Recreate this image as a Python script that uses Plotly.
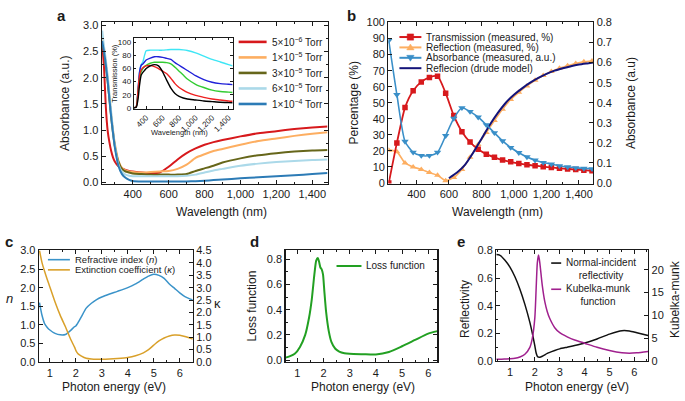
import plotly.graph_objects as go

# ---------------- data ----------------
# (a) absorbance vs wavelength, five oxygen pressures
WL_A = [230, 240, 250, 260, 270, 280, 290, 300, 320, 340, 360, 380, 400, 450, 500, 550,
        600, 650, 700, 750, 800, 850, 900, 1000, 1100, 1200, 1300, 1400, 1485]
ABS_5E6 = [2.65, 2.2, 1.45, 1.0, 0.77, 0.6, 0.48, 0.4, 0.31, 0.27, 0.24, 0.22, 0.21, 0.19, 0.18, 0.19,
           0.3, 0.44, 0.56, 0.65, 0.72, 0.77, 0.81, 0.88, 0.94, 0.98, 1.02, 1.05, 1.07]
ABS_1E5 = [2.75, 2.55, 2.3, 2.0, 1.65, 1.3, 1.0, 0.75, 0.42, 0.28, 0.23, 0.21, 0.2, 0.19, 0.2, 0.21,
           0.22, 0.26, 0.34, 0.47, 0.54, 0.6, 0.64, 0.72, 0.79, 0.84, 0.89, 0.93, 0.96]
ABS_3E5 = [2.7, 2.5, 2.25, 1.95, 1.6, 1.25, 0.95, 0.7, 0.4, 0.26, 0.21, 0.19, 0.17, 0.16, 0.15, 0.15,
           0.15, 0.15, 0.16, 0.22, 0.27, 0.32, 0.38, 0.46, 0.52, 0.56, 0.59, 0.61, 0.62]
ABS_6E5 = [2.9, 2.6, 2.35, 2.05, 1.7, 1.35, 1.0, 0.72, 0.35, 0.2, 0.15, 0.13, 0.12, 0.12, 0.12, 0.12,
           0.12, 0.12, 0.13, 0.15, 0.19, 0.23, 0.26, 0.32, 0.36, 0.39, 0.41, 0.43, 0.44]
ABS_1E4 = [2.7, 2.5, 2.25, 1.95, 1.6, 1.25, 0.95, 0.68, 0.32, 0.16, 0.09, 0.05, 0.03, 0.02, 0.02, 0.02,
           0.02, 0.02, 0.02, 0.025, 0.035, 0.045, 0.055, 0.08, 0.1, 0.12, 0.14, 0.16, 0.18]
LEGEND_A = ["5×10<sup>−6</sup> Torr", "1×10<sup>−5</sup> Torr", "3×10<sup>−5</sup> Torr",
            "6×10<sup>−5</sup> Torr", "1×10<sup>−4</sup> Torr"]

# (a, inset) transmission vs wavelength
WL_IN = [250, 280, 300, 320, 340, 360, 380, 400, 450, 500, 550, 600, 650, 700, 750, 800,
         850, 900, 1000, 1100, 1200, 1300, 1400, 1450]
T_CYAN = [0, 2, 25, 55, 66, 70, 80, 87, 88, 88, 88, 88, 88.5, 89, 89, 89, 88.5, 87.5, 84, 79, 74, 70, 66, 64]
T_BLUE = [0, 2, 25, 55, 65, 67, 70, 73, 76, 78, 78, 77, 75.5, 74, 69, 65, 61, 57, 49, 43, 39, 37, 36, 35.5]
T_GREEN = [0, 2, 22, 45, 55, 60, 63, 65, 68, 69.5, 69.5, 69.5, 69, 67, 62, 56, 50, 44, 36, 31, 27, 25, 24, 23.5]
T_RED = [0, 2, 25, 50, 58, 61, 63, 64, 64.5, 63, 60, 56, 52, 45, 37, 31, 27, 23.5, 19, 16, 13.5, 12, 10.5, 10]
T_BLACK = [0, 1, 12, 35, 50, 54, 57, 60, 64, 66, 64, 55, 42, 30, 22, 17.5, 15, 13.5, 12, 10.5, 9.5, 8.5, 8, 7.8]

# (b) measured spectra + Drude model
WL_B = [230, 280, 330, 380, 430, 480, 530, 580, 630, 680, 730, 780, 830, 880, 930, 980,
        1030, 1080, 1130, 1180, 1230, 1280, 1330, 1380, 1430, 1480]
TRANS_B = [0, 25, 47, 57.5, 63, 65.8, 66.5, 56, 42, 32, 25.5, 21, 18, 16, 14.3, 13.2,
           12.2, 11.4, 10.8, 10.2, 9.7, 9.2, 8.8, 8.4, 8.0, 7.6]
REFL_B = [20.5, 19.5, 12.5, 10, 8.5, 6.5, 4.8, 1.5, 3.5, 8.5, 16, 24, 31.5, 39, 46, 52,
          56.5, 60.5, 64, 67, 69.5, 71.5, 73, 74.5, 75.5, 76]
ABS_B = [0.71, 0.44, 0.207, 0.153, 0.137, 0.137, 0.153, 0.236, 0.322, 0.375, 0.356, 0.328, 0.29, 0.25,
         0.21, 0.177, 0.151, 0.13, 0.114, 0.102, 0.094, 0.086, 0.08, 0.076, 0.073, 0.071]
WL_DRUDE = [600, 650, 700, 750, 800, 850, 900, 950, 1000, 1050, 1100, 1150, 1200, 1250,
            1300, 1350, 1400, 1450, 1487]
DRUDE = [3, 6.5, 11.5, 19, 27.5, 36, 43.5, 50, 55, 59, 62.5, 65.5, 68, 70, 71.5, 72.8, 73.8, 74.5, 75]
LEGEND_B = ["Transmission (measured, %)", "Reflection (measured, %)",
            "Absorbance (measured, a.u.)", "Reflecion (drude model)"]

# (c) optical constants
E_C = [0.6, 0.7, 0.8, 0.9, 1.0, 1.2, 1.4, 1.6, 1.8, 1.95, 2.0, 2.05, 2.1, 2.2, 2.4, 2.6, 2.8, 3.0,
       3.3, 3.6, 4.0, 4.3, 4.6, 4.8, 5.0, 5.2, 5.4, 5.6, 5.8, 6.0, 6.2, 6.5]
N_C = [1.6, 1.25, 1.03, 0.93, 0.86, 0.77, 0.73, 0.74, 0.85, 0.95, 0.97, 1.02, 1.08, 1.2, 1.45, 1.58,
       1.68, 1.75, 1.83, 1.9, 2.0, 2.1, 2.23, 2.31, 2.36, 2.33, 2.25, 2.1, 1.98, 1.86, 1.76, 1.67]
K_C = [4.5, 4.0, 3.65, 3.33, 3.03, 2.42, 1.88, 1.42, 0.92, 0.6, 0.47, 0.38, 0.32, 0.25, 0.15, 0.12,
       0.11, 0.11, 0.12, 0.14, 0.18, 0.25, 0.37, 0.5, 0.68, 0.85, 0.97, 1.05, 1.09, 1.08, 1.03, 0.93]
LEGEND_C = ["Refractive index (<i>n</i>)", "Extinction coefficient (<i>κ</i>)"]

# (d) loss function
E_D = [0.55, 0.7, 0.9, 1.1, 1.3, 1.45, 1.55, 1.65, 1.72, 1.78, 1.83, 1.88, 1.93, 1.98, 2.03, 2.1,
       2.2, 2.3, 2.45, 2.6, 2.8, 3.0, 3.5, 4.0, 4.5, 5.0, 5.5, 6.0, 6.35]
LOSS_D = [0.02, 0.03, 0.05, 0.105, 0.2, 0.34, 0.48, 0.68, 0.79, 0.81, 0.78, 0.735, 0.72, 0.68, 0.55,
          0.38, 0.23, 0.145, 0.09, 0.068, 0.055, 0.05, 0.047, 0.045, 0.065, 0.11, 0.16, 0.21, 0.23]

# (e) reflectivity and Kubelka-Munk
E_E = [0.45, 0.6, 0.8, 1.0, 1.2, 1.4, 1.6, 1.8, 1.9, 2.0, 2.05, 2.1, 2.15, 2.2, 2.3, 2.4, 2.5, 2.6,
       2.8, 3.0, 3.3, 3.6, 4.0, 4.5, 5.0, 5.5, 5.8, 6.1, 6.55]
REFL_E = [0.77, 0.765, 0.73, 0.68, 0.61, 0.52, 0.41, 0.28, 0.2, 0.11, 0.06, 0.035, 0.028, 0.027, 0.035,
          0.045, 0.055, 0.063, 0.076, 0.088, 0.1, 0.112, 0.13, 0.16, 0.195, 0.22, 0.218, 0.205, 0.185]
KM_E = [0.4, 0.4, 0.45, 0.5, 0.6, 0.9, 1.5, 3.0, 5.0, 9.5, 15.5, 21.5, 23.2, 21.5, 16.5, 13.0, 10.8,
        9.3, 7.3, 6.2, 5.3, 4.6, 3.9, 3.0, 2.3, 1.8, 1.7, 1.8, 2.1]

TICK_WL = [400, 600, 800, 1000, 1200, 1400]

# ---------------- styling / layout helpers ----------------
W, H = 685, 401
FONT = "Liberation Sans, Arial, Helvetica, sans-serif"
INK = "#1a1a1a"


def fx(p):
    return p / W


def fy(p):
    return 1 - p / H


fig = go.Figure()


def add_line(x, y, color, width, xa, ya, mode="lines", marker=None):
    fig.add_trace(go.Scatter(
        x=x, y=y, mode=mode, xaxis=xa, yaxis=ya, showlegend=False, hoverinfo="skip",
        line=dict(color=color, width=width, shape="spline", smoothing=0.6),
        marker=marker or {}))


# (a)
COL_A = ["#d7191c", "#fdae61", "#66661a", "#abd9e9", "#2c7bb6"]
for ys, c in zip([ABS_5E6, ABS_1E5, ABS_3E5, ABS_6E5, ABS_1E4], COL_A):
    add_line(WL_A, ys, c, 2, "x", "y")

# inset
COL_IN = ["#3ee6f5", "#2020d8", "#33cc33", "#ee2020", "#000000"]
for ys, c in zip([T_CYAN, T_BLUE, T_GREEN, T_RED, T_BLACK], COL_IN):
    add_line(WL_IN, ys, c, 1.4, "x2", "y2")

# (b)
COL_B = ["#d7191c", "#fdae61", "#3a8fc8", "#14147a"]
add_line(WL_B, REFL_B, COL_B[1], 1.6, "x3", "y3", "lines+markers",
         dict(symbol="triangle-up", size=6, color=COL_B[1]))
add_line(WL_B, TRANS_B, COL_B[0], 1.8, "x3", "y3", "lines+markers",
         dict(symbol="square", size=5.5, color=COL_B[0]))
add_line(WL_DRUDE, DRUDE, COL_B[3], 2, "x3", "y3")
add_line(WL_B, ABS_B, COL_B[2], 1.6, "x3", "y4", "lines+markers",
         dict(symbol="triangle-down", size=6.5, color=COL_B[2]))

# (c)
COL_C = ["#3a93c9", "#d9a02a"]
add_line(E_C, N_C, COL_C[0], 1.5, "x4", "y5")
add_line(E_C, K_C, COL_C[1], 1.5, "x4", "y6")

# (d)
COL_D = "#22a022"
add_line(E_D, LOSS_D, COL_D, 2, "x5", "y7")

# (e)
COL_E = ["#111111", "#a0208e"]
add_line(E_E, REFL_E, COL_E[0], 1.5, "x6", "y8")
add_line(E_E, KM_E, COL_E[1], 1.5, "x6", "y9")


def axis(dom, rng, size=11, **kw):
    d = dict(domain=dom, range=rng, showline=True, linecolor=INK, linewidth=1.3,
             ticks="inside", ticklen=4, tickwidth=1, tickcolor=INK, showgrid=False,
             zeroline=False, tickfont=dict(family=FONT, size=size, color=INK), fixedrange=True)
    d.update(kw)
    return d


def minor(dt, ln=2):
    return dict(ticks="inside", ticklen=ln, tickcolor=INK, tickwidth=1, dtick=dt, tick0=0)


DOM_A_X, DOM_TOP_Y = [fx(102), fx(328)], [fy(183), fy(17)]
DOM_B_X = [fx(389), fx(594)]
DOM_IN_X, DOM_IN_Y = [fx(134), fx(233)], [fy(106), fy(32.7)]
DOM_C_X, DOM_D_X, DOM_E_X = [fx(39), fx(193)], [fx(286), fx(438)], [fx(497), fx(649)]
DOM_BOT_Y = [fy(367), fy(252)]
IN_XR, IN_YR = [250, 1450], [-1.5, 107]

fig.update_layout(
    width=W, height=H, margin=dict(l=0, r=0, t=0, b=0),
    paper_bgcolor="white", plot_bgcolor="rgba(0,0,0,0)", showlegend=False,
    font=dict(family=FONT, color=INK),
    xaxis=axis(DOM_A_X, [228, 1485], anchor="y", mirror="ticks", tickvals=TICK_WL,
               tickformat=",", minor=minor(100)),
    yaxis=axis(DOM_TOP_Y, [-0.02, 3.055], anchor="x", mirror="ticks", dtick=0.5, tick0=0,
               tickformat=".1f", minor=minor(0.25)),
    xaxis2=axis(DOM_IN_X, IN_XR, size=8, anchor="y2", mirror="ticks", tickvals=TICK_WL,
                tickformat=",", tickangle=-45, ticklen=2.5, linewidth=1),
    yaxis2=axis(DOM_IN_Y, IN_YR, size=8, anchor="x2", mirror="ticks", dtick=20, tick0=0,
                ticklen=2.5, linewidth=1),
    xaxis3=axis(DOM_B_X, [228, 1487], anchor="y3", mirror="ticks", tickvals=TICK_WL,
                tickformat=",", minor=minor(100)),
    yaxis3=axis(DOM_TOP_Y, [-0.3, 100], anchor="x3", dtick=10, tick0=0),
    yaxis4=axis(DOM_TOP_Y, [-0.0024, 0.8], anchor="x3", overlaying="y3", side="right",
                dtick=0.1, tick0=0, tickformat=".1f"),
    xaxis4=axis(DOM_C_X, [0.58, 6.5], anchor="y5", mirror="ticks", dtick=1, tick0=0,
                minor=minor(0.5)),
    yaxis5=axis(DOM_BOT_Y, [0, 3.0], anchor="x4", dtick=0.5, tick0=0, tickformat=".1f"),
    yaxis6=axis(DOM_BOT_Y, [0, 4.5], anchor="x4", overlaying="y5", side="right",
                dtick=0.5, tick0=0, tickformat=".1f"),
    xaxis5=axis(DOM_D_X, [0.55, 6.35], anchor="y7", mirror="ticks", dtick=1, tick0=0,
                minor=minor(0.5)),
    yaxis7=axis(DOM_BOT_Y, [-0.015, 0.87], anchor="x5", mirror="ticks", dtick=0.2, tick0=0,
                tickformat=".1f", minor=minor(0.1)),
    xaxis6=axis(DOM_E_X, [0.45, 6.55], anchor="y8", mirror="ticks", dtick=1, tick0=0,
                minor=minor(0.5)),
    yaxis8=axis([fy(366), fy(252)], [0, 0.8], anchor="x6", dtick=0.2, tick0=0,
                tickformat=".1f", minor=minor(0.1)),
    yaxis9=axis([fy(366), fy(252)], [0, 24.2], anchor="x6", overlaying="y8", side="right",
                dtick=5, tick0=0),
)

# white background of the inset (drawn in the inset subplot, above panel a curves)
fig.add_shape(type="rect", xref="x2", yref="y2", x0=IN_XR[0], x1=IN_XR[1], y0=IN_YR[0],
              y1=IN_YR[1], fillcolor="white", line_width=0, layer="below")


def text(x, y, s, size=12, angle=0, anchor="center", bold=False, italic=False):
    font = dict(family=FONT, size=size, color=INK)
    if bold:
        font["weight"] = "bold"
    if italic:
        font["style"] = "italic"
    fig.add_annotation(xref="paper", yref="paper", x=fx(x), y=fy(y), text=s,
                       showarrow=False, xanchor=anchor, yanchor="middle", textangle=angle,
                       font=font)


def key_line(x0, x1, y, color, width=2.2):
    fig.add_shape(type="line", xref="paper", yref="paper", x0=fx(x0), x1=fx(x1), y0=fy(y), y1=fy(y),
                  line=dict(color=color, width=width), layer="above")


def key_marker(x, y, kind, color, r=3.2):
    if kind == "square":
        path = f"M{fx(x-r)},{fy(y-r)} L{fx(x+r)},{fy(y-r)} L{fx(x+r)},{fy(y+r)} L{fx(x-r)},{fy(y+r)} Z"
    elif kind == "up":
        path = f"M{fx(x-r-0.5)},{fy(y+r*0.8)} L{fx(x+r+0.5)},{fy(y+r*0.8)} L{fx(x)},{fy(y-r*1.1)} Z"
    else:
        path = f"M{fx(x-r-0.5)},{fy(y-r*0.8)} L{fx(x+r+0.5)},{fy(y-r*0.8)} L{fx(x)},{fy(y+r*1.1)} Z"
    fig.add_shape(type="path", xref="paper", yref="paper", path=path, fillcolor=color,
                  line=dict(color=color, width=0.5), layer="above")


# panel letters
for lab, x, y in [("a", 62, 10), ("b", 352, 10), ("c", 9, 243), ("d", 255, 243), ("e", 462, 243)]:
    text(x, y, lab, size=15, bold=True)

# axis titles
text(222, 212, "Wavelength (nm)")
text(65, 100, "Absorbance (a.u.)", angle=-90)
text(180, 130, "Wavelength (nm)", size=7.5)
text(115, 69, "Transmission (%)", size=7.5, angle=-90)
text(498, 212, "Wavelength (nm)")
text(355, 100, "Percentage (%)", angle=-90)
text(632, 100, "Absorbance (a.u)", angle=-90)
text(114, 393, "Photon energy (eV)")
text(10, 302, "n", size=13, italic=True)
text(218, 307, "κ", size=13)
text(364, 393, "Photon energy (eV)")
text(252, 309, "Loss function", angle=-90)
text(578, 393, "Photon energy (eV)")
text(465, 312, "Reflectivity", angle=-90)
text(676, 302, "Kubelka-munk", angle=-90)

# legend (a)
for i, (lab, c) in enumerate(zip(LEGEND_A, COL_A)):
    y = 37 + 16 * i
    key_line(239, 267, y, c, 2.6)
    text(270, y, lab, size=10, anchor="left")

# legend (b)
for i, (lab, c, mk) in enumerate(zip(LEGEND_B, COL_B, ["square", "up", "down", None])):
    y = 32 + 10.7 * i
    key_line(400, 422, y, c, 2)
    if mk:
        key_marker(411, y, mk, c)
    text(425, y, lab, size=10, anchor="left")

# legend (c)
for i, (lab, c) in enumerate(zip(LEGEND_C, COL_C)):
    y = 261.5 + 10.5 * i
    key_line(48, 70, y, c, 1.6)
    text(73, y, lab, size=9.5, anchor="left")

# legend (d)
key_line(337, 362, 268, COL_D, 2)
text(365, 268, "Loss function", size=10, anchor="left")

# legend (e)
key_line(552, 562, 265, COL_E[0], 1.6)
text(565, 271, "Normal-incident<br>reflectivity", size=10, anchor="left")
key_line(552, 562, 292, COL_E[1], 1.6)
text(565, 298, "Kubelka-munk<br>function", size=10, anchor="left")

fig.write_html("out.html", config={"displayModeBar": False, "staticPlot": True},
               post_script="document.body.style.margin='0px';")
